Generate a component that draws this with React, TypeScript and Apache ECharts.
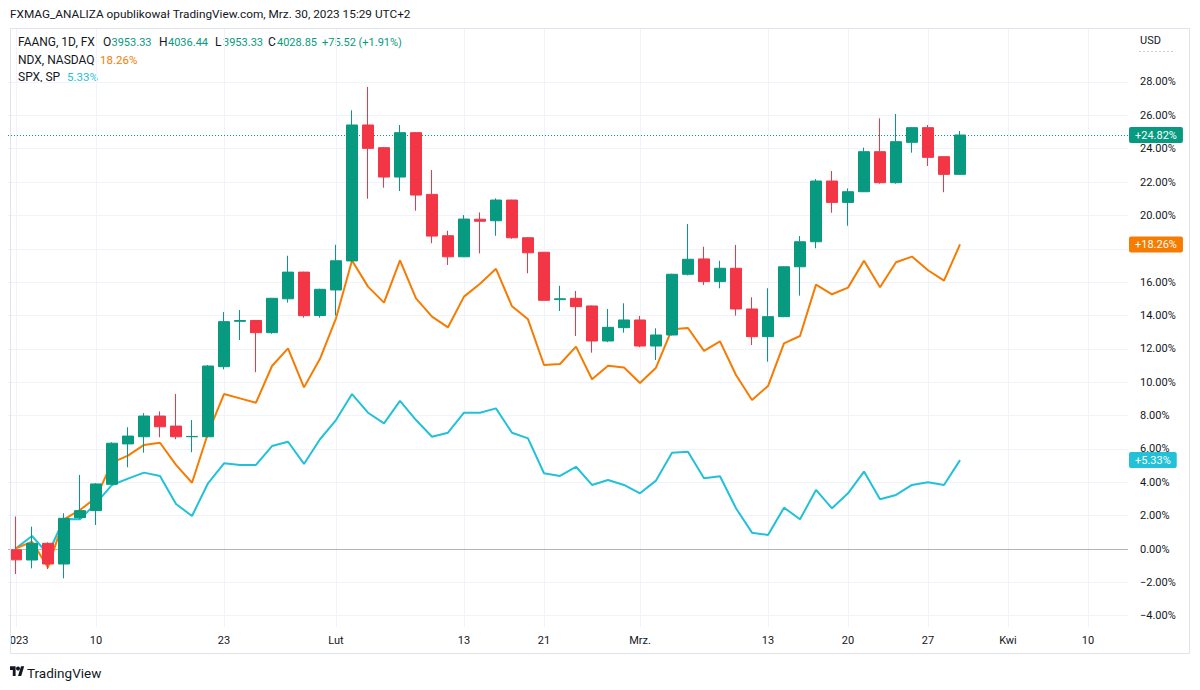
import React, { useEffect, useRef } from "react";
import * as echarts from "echarts";

const categories = [
  "2023-01-03", "2023-01-04", "2023-01-05", "2023-01-06", "2023-01-09", "2023-01-10", "2023-01-11", "2023-01-12", "2023-01-13", "2023-01-17",
  "2023-01-18", "2023-01-19", "2023-01-20", "2023-01-23", "2023-01-24", "2023-01-25", "2023-01-26", "2023-01-27", "2023-01-30", "2023-01-31",
  "2023-02-01", "2023-02-02", "2023-02-03", "2023-02-06", "2023-02-07", "2023-02-08", "2023-02-09", "2023-02-10", "2023-02-13", "2023-02-14",
  "2023-02-15", "2023-02-16", "2023-02-17", "2023-02-21", "2023-02-22", "2023-02-23", "2023-02-24", "2023-02-27", "2023-02-28", "2023-03-01",
  "2023-03-02", "2023-03-03", "2023-03-06", "2023-03-07", "2023-03-08", "2023-03-09", "2023-03-10", "2023-03-13", "2023-03-14", "2023-03-15",
  "2023-03-16", "2023-03-17", "2023-03-20", "2023-03-21", "2023-03-22", "2023-03-23", "2023-03-24", "2023-03-27", "2023-03-28", "2023-03-29",
  "2023-03-30", "2023-03-31", "2023-04-03", "2023-04-04", "2023-04-05", "2023-04-06", "2023-04-07", "2023-04-10", "2023-04-11", "2023-04-12",
];

const tickDates = ["2023-01-03", "2023-01-10", "2023-01-23", "2023-02-01", "2023-02-13", "2023-02-21", "2023-03-01", "2023-03-13", "2023-03-20", "2023-03-27", "2023-04-03", "2023-04-10"];
const tickLabels = ["2023", "10", "23", "Lut", "13", "21", "Mrz.", "13", "20", "27", "Kwi", "10"];

// FAANG (% change) candles
const faangOpen = [
  -0.05, -0.66, 0.34, -0.9, 1.88, 2.3, 3.88, 6.3, 6.73, 7.97,
  7.37, 6.73, 6.73, 10.93, 13.65, 13.7, 12.97, 15.0, 16.6, 14.0,
  15.53, 17.27, 25.42, 24.06, 22.3, 24.96, 21.26, 18.78, 17.52, 19.77,
  19.68, 20.92, 18.66, 17.79, 14.95, 15.03, 14.57, 12.47, 13.27, 13.73,
  12.17, 12.83, 16.47, 17.39, 16.03, 16.83, 14.39, 12.73, 13.93, 16.92,
  18.42, 22.06, 20.78, 21.42, 23.82, 21.96, 24.38, 25.26, 23.52, 22.46,
];
const faangClose = [
  -0.65, 0.34, -0.9, 1.84, 2.3, 3.9, 6.34, 6.77, 7.97, 7.33,
  6.73, 6.75, 10.97, 13.63, 13.7, 12.97, 15.03, 16.6, 13.99, 15.57,
  17.28, 25.42, 24.02, 22.3, 24.96, 21.22, 18.76, 17.52, 19.78, 19.65,
  20.92, 18.66, 17.76, 14.91, 15.0, 14.53, 12.47, 13.29, 13.73, 12.17,
  12.83, 16.47, 17.37, 16.03, 16.83, 14.39, 12.73, 13.93, 16.92, 18.42,
  22.06, 20.78, 21.42, 23.82, 21.96, 24.42, 25.26, 23.48, 22.46, 24.82,
];
const faangLow = [
  -1.5, -1.16, -1.2, -1.76, 1.8, 1.44, 3.85, 4.9, 5.77, 6.7,
  6.58, 5.8, 6.7, 10.77, 12.53, 10.6, 12.9, 14.77, 13.87, 13.87,
  14.0, 17.2, 21.0, 21.66, 21.46, 20.28, 18.33, 17.03, 17.5, 17.72,
  18.78, 18.6, 16.53, 14.9, 14.27, 12.77, 11.77, 12.4, 12.97, 12.09,
  11.33, 12.8, 16.4, 15.83, 15.63, 13.99, 12.23, 11.23, 13.9, 15.19,
  18.03, 20.16, 19.38, 21.4, 21.9, 21.9, 23.76, 22.96, 21.39, 22.46,
];
const faangHigh = [
  1.95, 1.34, 0.4, 2.14, 4.44, 3.95, 6.4, 7.3, 8.14, 8.25,
  9.3, 7.73, 11.03, 14.2, 14.33, 13.72, 15.05, 17.58, 16.62, 15.6,
  18.24, 26.3, 27.7, 24.1, 25.42, 25.0, 22.72, 19.08, 20.02, 20.18,
  21.02, 20.94, 18.7, 17.8, 15.78, 15.47, 14.6, 14.39, 14.73, 13.97,
  13.23, 16.5, 19.48, 18.12, 17.28, 18.23, 15.09, 15.63, 16.95, 18.76,
  22.18, 22.66, 21.62, 24.06, 25.82, 26.08, 25.3, 25.42, 23.52, 25.06,
];

const ndxPct = [
  0.04, 0.44, -1.1, 1.78, 2.34, 3.08, 5.18, 5.6, 6.24, 6.37,
  5.04, 3.97, 6.94, 9.29, 9.03, 8.77, 10.97, 12.03, 9.69, 11.4,
  13.83, 17.3, 15.73, 14.77, 17.3, 15.03, 13.93, 13.29, 15.13, 15.9,
  16.8, 14.55, 13.77, 11.03, 11.09, 12.13, 10.18, 10.99, 10.88, 9.95,
  10.87, 13.18, 13.25, 11.88, 12.45, 10.43, 8.93, 9.77, 12.33, 12.77,
  15.85, 15.27, 15.67, 17.28, 15.69, 17.19, 17.53, 16.71, 16.09, 18.26,
];
const spxPct = [
  0.04, 0.78, -0.3, 1.8, 1.78, 2.74, 3.84, 4.22, 4.58, 4.38,
  2.7, 1.98, 3.94, 5.14, 5.04, 5.04, 6.17, 6.43, 5.1, 6.58,
  7.73, 9.29, 8.17, 7.53, 8.88, 7.73, 6.73, 6.97, 8.17, 8.17,
  8.43, 6.97, 6.63, 4.54, 4.38, 4.93, 3.84, 4.14, 3.84, 3.34,
  4.1, 5.77, 5.83, 4.24, 4.36, 2.44, 0.98, 0.84, 2.48, 1.78,
  3.54, 2.44, 3.34, 4.64, 2.98, 3.24, 3.84, 4.0, 3.84, 5.33,
];

const yMin = -4;
const yMax = 28;
const yStep = 2;

const UP = "#089981";
const DOWN = "#f23645";
const ORANGE = "#f57c00";
const CYAN = "#22c1d8";
const TEXT = "#131722";
const GRIDC = "#f0f3fa";
const FONT = "Roboto";

function pct(v: number): string {
  const s = Math.abs(v).toFixed(2) + "%";
  return v < 0 ? "\u2212" + s : s;
}
function signed(v: number): string {
  return (v >= 0 ? "+" : "\u2212") + Math.abs(v).toFixed(2) + "%";
}

function priceLabel(bg: string) {
  return {
    show: true,
    position: "end",
    distance: 1,
    backgroundColor: bg,
    color: "#ffffff",
    fontSize: 11,
    fontFamily: FONT,
    padding: [3, 6, 2, 6],
    borderRadius: 2,
  };
}

export default function App() {
  const ref = useRef<HTMLDivElement>(null);
  useEffect(() => {
    document.body.style.margin = "0";
    echarts.graphic.registerShape(
      "tvlogo",
      echarts.graphic.extendPath("M14 22H7V11H0V4h14v18z M28 22h-8l7.5-18h8L28 22z", {})
    );
    const chart = echarts.init(ref.current!, null, { renderer: "svg" });
    const candleData = faangOpen.map((o, i) => [o, faangClose[i], faangLow[i], faangHigh[i]]);
    const lastClose = faangClose[faangClose.length - 1];
    const lastNdx = ndxPct[ndxPct.length - 1];
    const lastSpx = spxPct[spxPct.length - 1];
    const lastValues = [lastClose, lastNdx, lastSpx];

    const txt = (x: number, y: number, text: string, color: string, size = 12) => ({
      type: "text",
      x,
      y,
      style: { text, fill: color, font: `${size}px ${FONT}`, textVerticalAlign: "middle", verticalAlign: "middle" },
    });
    const hidden = { color: "rgba(0,0,0,0)", width: 1, type: "solid" };

    const option: any = {
      animation: false,
      backgroundColor: "#ffffff",
      textStyle: { fontFamily: FONT },
      grid: [
        { left: 16, width: 1104, top: 28, height: 599 },
        { left: 8, width: 1120, top: 81.96, height: 533.76 },
      ],
      xAxis: [
        {
          type: "category",
          gridIndex: 0,
          data: categories,
          boundaryGap: false,
          axisLine: { show: false },
          axisTick: { show: false },
          axisLabel: {
            interval: (_i: number, v: string) => tickDates.includes(v),
            formatter: (v: string) => {
              const k = tickDates.indexOf(v);
              return k >= 0 ? tickLabels[k] : "";
            },
            color: TEXT,
            fontSize: 11,
            margin: 8,
          },
          splitLine: {
            show: true,
            interval: (_i: number, v: string) => tickDates.includes(v),
            lineStyle: { color: GRIDC, width: 1 },
          },
        },
        { type: "category", gridIndex: 1, data: categories, show: false },
      ],
      yAxis: [
        { type: "value", gridIndex: 0, show: false, min: 0, max: 1 },
        {
          type: "value",
          gridIndex: 1,
          position: "right",
          min: yMin,
          max: yMax,
          interval: yStep,
          axisLine: { show: false },
          axisTick: { show: false },
          axisLabel: {
            // labels fully covered by a price box are hidden (as in the reference)
            formatter: (v: number) => (lastValues.some((lv) => Math.abs(lv - v) < 0.5) ? "" : pct(v)),
            color: TEXT,
            fontSize: 11,
            margin: 12,
          },
          splitLine: { show: true, lineStyle: { color: GRIDC, width: 1 } },
        },
      ],
      series: [
        {
          name: "SPX",
          type: "line",
          xAxisIndex: 1,
          yAxisIndex: 1,
          data: spxPct,
          symbol: "none",
          z: 2,
          lineStyle: { color: CYAN, width: 2 },
          itemStyle: { color: CYAN },
          markLine: {
            z: 1,
            silent: true,
            symbol: "none",
            data: [
              { yAxis: 0, lineStyle: { color: "#b2b5be", type: "solid", width: 1 }, label: { show: false } },
              { yAxis: lastSpx, lineStyle: hidden, label: { ...priceLabel(CYAN), formatter: signed(lastSpx) } },
            ],
          },
        },
        {
          name: "NDX",
          type: "line",
          xAxisIndex: 1,
          yAxisIndex: 1,
          data: ndxPct,
          symbol: "none",
          z: 2,
          lineStyle: { color: ORANGE, width: 2 },
          itemStyle: { color: ORANGE },
          markLine: {
            z: 1,
            silent: true,
            symbol: "none",
            data: [
              { yAxis: lastNdx, lineStyle: hidden, label: { ...priceLabel(ORANGE), formatter: signed(lastNdx) } },
            ],
          },
        },
        {
          name: "FAANG",
          type: "candlestick",
          xAxisIndex: 1,
          yAxisIndex: 1,
          data: candleData,
          barWidth: 11,
          z: 3,
          itemStyle: { color: UP, color0: DOWN, borderColor: UP, borderColor0: DOWN, borderWidth: 1 },
          markLine: {
            z: 1,
            silent: true,
            symbol: "none",
            lineStyle: { color: UP, type: [1, 2], width: 1, opacity: 1 },
            itemStyle: { color: UP },
            data: [
              {
                yAxis: lastClose,
                lineStyle: { color: UP, type: [1, 2], width: 1, opacity: 1 },
                label: { ...priceLabel(UP), formatter: signed(lastClose) },
              },
            ],
          },
        },
      ],
      graphic: [
        { type: "rect", shape: { x: 10.5, y: 28.5, width: 1179, height: 625 }, style: { fill: "none", stroke: "#e0e3eb", lineWidth: 1 }, z: 10, silent: true },
        { type: "rect", shape: { x: 0, y: 630, width: 10, height: 20 }, style: { fill: "#ffffff" }, z: 10, silent: true },
        txt(10, 14, "FXMAG_ANALIZA opublikował TradingView.com, Mrz. 30, 2023 15:29 UTC+2", TEXT, 11.8),
        txt(18, 42, "FAANG, 1D, FX", TEXT),
        txt(103, 42, "O", TEXT),
        txt(111.5, 42, "3953.33", UP, 11),
        txt(159, 42, "H", TEXT),
        txt(168, 42, "4036.44", UP, 11),
        txt(215, 42, "L", TEXT),
        txt(223, 42, "3953.33", UP, 11),
        txt(268, 42, "C", TEXT),
        txt(277, 42, "4028.85", UP, 11),
        txt(322, 42, "+75.52 (+1.91%)", UP, 11),
        txt(18, 60, "NDX, NASDAQ", TEXT),
        txt(100, 60, lastNdx.toFixed(2) + "%", ORANGE, 11.5),
        txt(18, 77, "SPX, SP", TEXT),
        txt(67, 77, lastSpx.toFixed(2) + "%", CYAN, 11.5),
        txt(1140, 40, "USD", TEXT, 11),
        { type: "line", shape: { x1: 1139, y1: 51.5, x2: 1173, y2: 51.5 }, style: { stroke: "#c9ccd4", lineWidth: 1, lineDash: [2, 2] }, silent: true },
        { type: "tvlogo", x: 10, y: 664, scaleX: 0.4, scaleY: 0.55, style: { fill: TEXT } },
        { type: "circle", shape: { cx: 18, cy: 668.4, r: 2 }, style: { fill: TEXT } },
        txt(27, 673, "TradingView", TEXT, 13.5),
      ],
    };
    chart.setOption(option);
    return () => chart.dispose();
  }, []);
  return <div ref={ref} style={{ width: 1200, height: 690 }} />;
}
